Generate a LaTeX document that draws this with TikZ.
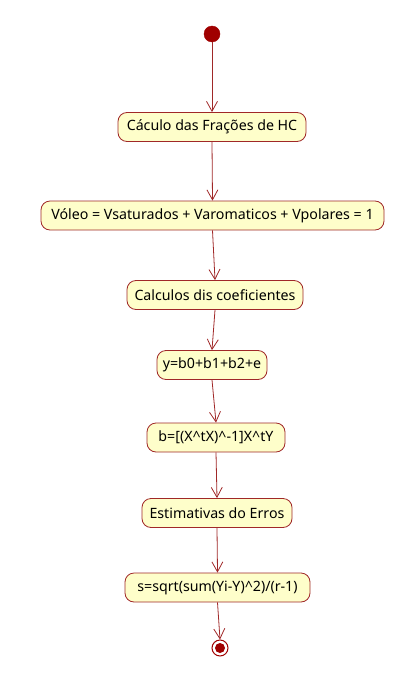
\documentclass[tikz,border=0pt]{standalone}
\usepackage{fontspec}
\setmainfont{Noto Sans}
\usetikzlibrary{arrows.meta}
\definecolor{umlred}{HTML}{A02828}
\definecolor{umlfill}{HTML}{FEFECA}
\definecolor{startfill}{HTML}{A00000}
\tikzset{
  act/.style={draw=umlred, fill=umlfill, rounded corners=9pt, line width=0.8pt,
    minimum height=29pt, inner sep=0pt, font=\fontsize{14.2}{16}\selectfont, text=black},
  flow/.style={draw=umlred, line width=0.8pt, -{Straight Barb[length=10pt,width=11pt,line width=0.8pt]}}
}
\begin{document}
\begin{tikzpicture}[x=1pt,y=-1pt]
\useasboundingbox (0,0) rectangle (417,677);
\node[circle, fill=startfill, draw=startfill, minimum size=16pt, inner sep=0pt] (start) at (212,34) {};
\node[act, minimum width=188pt] (a1) at (212,127) {Cáculo das Frações de HC};
\node[act, minimum width=343pt] (a2) at (212.5,215.5) {Vóleo = Vsaturados + Varomaticos + Vpolares = 1};
\node[act, minimum width=176pt] (a3) at (215,295) {Calculos dis coeficientes};
\node[act, minimum width=110pt] (a4) at (212,365) {y=b0+b1+b2+e};
\node[act, minimum width=138pt] (a5) at (216,437.5) {b=[(X\textasciicircum tX)\textasciicircum -1]X\textasciicircum tY};
\node[act, minimum width=150pt] (a6) at (217,513) {Estimativas do Erros};
\node[act, minimum width=185pt] (a7) at (217.5,587.5) {s=sqrt(sum(Yi-Y)\textasciicircum 2)/(r-1)};
\node[circle, draw=startfill, line width=1pt, fill=white, minimum size=16pt, inner sep=0pt] (end) at (220,648) {};
\fill[startfill] (end.center) circle (5pt);
\draw[flow] (start) -- (a1.north);
\draw[flow] (a1.south) -- (a2.north);
\draw[flow] (a2.south) -- (a3.north);
\draw[flow] (a3.south) -- (a4.north);
\draw[flow] (a4.south) -- (a5.north);
\draw[flow] (a5.south) -- (a6.north);
\draw[flow] (a6.south) -- (a7.north);
\draw[flow] (a7.south) -- (end.north);
\end{tikzpicture}
\end{document}
